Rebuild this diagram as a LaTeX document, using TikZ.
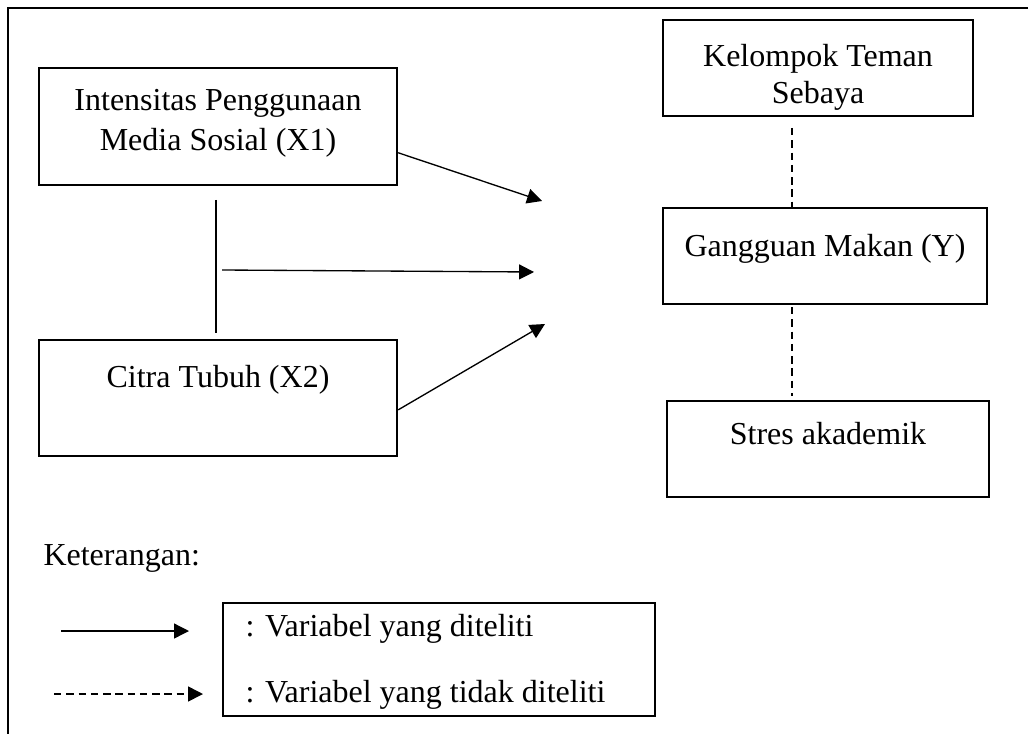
\documentclass[tikz,border=0pt]{standalone}
\usepackage{fontspec}
\setmainfont{Liberation Serif}
\usetikzlibrary{arrows.meta,fit,calc}
\begin{document}
\begin{tikzpicture}[x=0.375pt,y=-0.375pt,
  box/.style={draw,line width=0.9pt,inner sep=0pt},
  lbl/.style={anchor=base,inner sep=0pt,font=\fontsize{12}{14}\selectfont},
  arr/.style={line width=0.5pt,-{Triangle[length=5.6pt,width=5.6pt]}},
  dsh/.style={line width=0.6pt,dash pattern=on 2.8pt off 1.8pt}]
\useasboundingbox (0,0) rectangle (1035,734);
% outer frame (top and left edges visible)
\draw[line width=1pt] (1028,8) -- (8,8) -- (8,734);
% boxes
\node[box,fit={(39,68)(397,185)}] (x1) {};
\node[box,fit={(39,340)(397,456)}] (x2) {};
\node[box,fit={(663,20)(973,116)}] (kts) {};
\node[box,fit={(663,208)(987,304)}] (y) {};
\node[box,fit={(667,401)(989,497)}] (sa) {};
\node[draw,line width=0.5pt,inner sep=0pt,fit={(223,603)(655,716)}] (leg) {};
% texts
\node[lbl] (t1a) at (218,111) {Intensitas Penggunaan};
\node[lbl] (t1b) at (218,151) {Media Sosial (X1)};
\node[lbl] (t2) at (218,387) {Citra Tubuh (X2)};
\node[lbl] (tk1) at (818,67) {Kelompok Teman};
\node[lbl] (tk2) at (818,104) {Sebaya};
\node[lbl] (ty) at (825,256) {Gangguan Makan (Y)};
\node[lbl] (ts) at (828,444) {Stres akademik};
\node[lbl,anchor=base west] (ket) at (43,565) {Keterangan:};
\node[lbl,anchor=base west] (l1) at (245,636) {: Variabel yang diteliti};
\node[lbl,anchor=base west] (l2) at (245,702) {: Variabel yang tidak diteliti};
% connectors
\coordinate (e1) at (542,201);
\coordinate (e2) at (534,272);
\coordinate (e3) at (545,324);
\coordinate (s2) at (222,270);
\draw[arr] ($(x1.north east)!0.72!(x1.south east)$) -- (e1);
\draw[arr] (s2) -- (e2);
\draw[arr] ($(x2.north east)!0.6!(x2.south east)$) -- (e3);
\coordinate (v1) at (216,200);
\coordinate (v2) at (216,333);
\draw[line width=0.5pt] (v1) -- (v2);
\coordinate (d1) at (792,128);
\coordinate (d2) at (792,307);
\draw[dsh] (d1) -- (d1 |- y.north);
\draw[dsh,shorten >=1.5pt] (d2) -- (d2 |- sa.north);
% legend arrows
\coordinate (la1) at (61,631);
\coordinate (la2) at (189,631);
\coordinate (lb1) at (54,694);
\coordinate (lb2) at (203,694);
\draw[arr] (la1) -- (la2);
\draw[arr,dsh] (lb1) -- (lb2);
\end{tikzpicture}
\end{document}
